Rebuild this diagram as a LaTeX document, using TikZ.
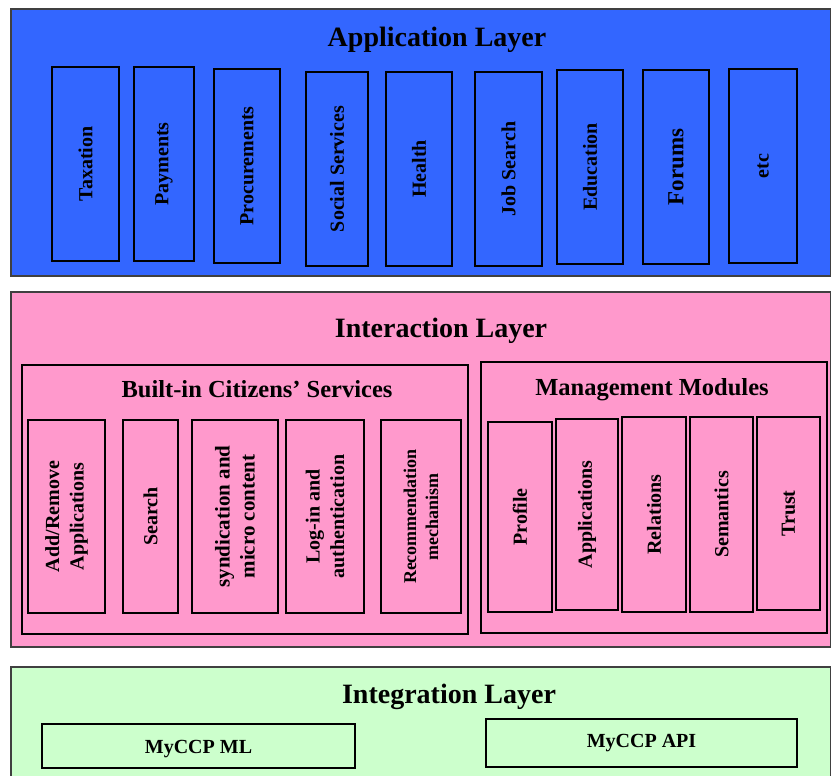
\documentclass[tikz,border=0pt]{standalone}
\usepackage{fontspec}
\setmainfont{Liberation Serif}
\definecolor{appblue}{HTML}{3366FF}
\definecolor{interpink}{HTML}{FF99CC}
\definecolor{integgreen}{HTML}{CCFFCC}
\definecolor{layerline}{HTML}{404040}
\begin{document}
\begin{tikzpicture}[x=1pt,y=-1pt,
  layer/.style={draw=layerline,line width=1.1pt},
  group/.style={draw=black,line width=1.2pt},
  layertitle/.style={anchor=base,font=\fontsize{28}{32}\selectfont\bfseries,inner sep=0pt},
  grouptitle/.style={anchor=base,font=\fontsize{24.5}{28}\selectfont\bfseries,inner sep=0pt},
  module/.style={draw=black,line width=1.3pt,rotate=90,inner sep=0pt,align=center,
    font=\fontsize{20}{24.5}\selectfont\bfseries},
  flatmodule/.style={draw=black,line width=1.3pt,inner sep=0pt,text height=14pt,text depth=6pt,
    font=\fontsize{20}{24}\selectfont\bfseries}
]
\useasboundingbox (0,0) rectangle (831,776);

% Application layer
\draw[layer,fill=appblue] (11,9) rectangle (831,276);
\node[layertitle] (apptitle) at (437,47) {Application Layer};
\node[module,minimum width=194,minimum height=67] (tax)    at (85.5,164) {Taxation};
\node[module,minimum width=194,minimum height=60] (pay)    at (164,164)  {Payments};
\node[module,minimum width=194,minimum height=66] (proc)   at (247,166)  {Procurements};
\node[module,minimum width=194,minimum height=62] (soc)    at (337,169)  {Social Services};
\node[module,minimum width=194,minimum height=66] (health) at (419,169)  {Health};
\node[module,minimum width=194,minimum height=67] (job)    at (508.5,169) {Job Search};
\node[module,minimum width=194,minimum height=66] (edu)    at (590,167)  {Education};
\node[module,minimum width=194,minimum height=66,font=\fontsize{23}{27}\selectfont\bfseries] (forum) at (676,167) {Forums};
\node[module,minimum width=194,minimum height=68] (etc)    at (763,166)  {etc};

% Interaction layer
\draw[layer,fill=interpink] (11,292) rectangle (831,647);
\node[layertitle] (intertitle) at (441,337) {Interaction Layer};

\draw[group] (22,365) rectangle (468,634);
\node[grouptitle] (builttitle) at (257,397) {Built-in Citizens’ Services};
\node[module,minimum width=193,minimum height=77] (addrem) at (66.5,516.5) {Add/Remove\\Applications};
\node[module,minimum width=193,minimum height=55] (search) at (150.5,516.5) {Search};
\node[module,minimum width=193,minimum height=86,font=\fontsize{21}{25}\selectfont\bfseries] (synd) at (235,516.5) {syndication and\\micro content};
\node[module,minimum width=193,minimum height=78] (login)  at (325,516.5) {Log-in and\\authentication};
\node[module,minimum width=193,minimum height=80,font=\fontsize{18}{22}\selectfont\bfseries] (recom) at (421,516.5) {Recommendation\\mechanism};

\draw[group] (481,362) rectangle (827,633);
\node[grouptitle] (mgmttitle) at (652,395) {Management Modules};
\node[module,minimum width=190,minimum height=64] (profile) at (520,517)   {Profile};
\node[module,minimum width=191,minimum height=62] (appl)    at (587,514.5) {Applications};
\node[module,minimum width=195,minimum height=64] (rel)     at (654,514.5) {Relations};
\node[module,minimum width=195,minimum height=63] (sem)     at (721.5,514.5) {Semantics};
\node[module,minimum width=193,minimum height=63] (trust)   at (788.5,513.5) {Trust};

% Integration layer
\draw[layer,fill=integgreen] (11,667) rectangle (831,790);
\node[layertitle] (integtitle) at (449,703) {Integration Layer};
\node[flatmodule,minimum width=313,minimum height=44] (ml)  at (198.5,746) {\raisebox{-3pt}{MyCCP ML}};
\node[flatmodule,minimum width=311,minimum height=48] (api) at (641.5,743) {MyCCP API};
\end{tikzpicture}
\end{document}
